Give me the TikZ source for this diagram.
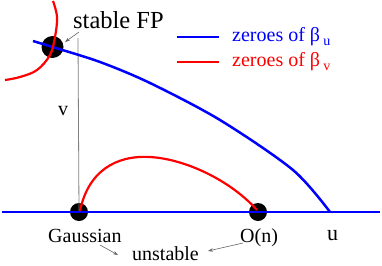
\documentclass[tikz,border=0pt]{standalone}
\usepackage{fontspec}
\setmainfont{Liberation Serif}
\newfontfamily\tms{Liberation Serif}
\usetikzlibrary{arrows.meta}
\begin{document}
\begin{tikzpicture}[x=1pt,y=-1pt,
  dot/.style={circle,fill=black,inner sep=0pt},
  lbl/.style={inner sep=0pt,anchor=base west,font=\tms\fontsize{20}{24}\selectfont},
  ptr/.style={draw=gray!80!black,line width=0.6pt,-{Stealth[length=5pt,width=3.5pt]}},
  bluec/.style={draw=blue,line width=2.5pt},
  redc/.style={draw=red,line width=2.2pt}]
\useasboundingbox (0,0) rectangle (382,265);
% dots
\node[dot,minimum size=22pt] (fp) at (52.5,47) {};
\node[dot,minimum size=18pt] (gauss) at (79,212) {};
\node[dot,minimum size=18pt] (on) at (258,212) {};
% gray vertical line
\coordinate (vtop) at (78,38);
\draw[gray,line width=0.8pt] (vtop) -- (gauss.center);
% axis
\coordinate (axl) at (2,212);
\coordinate (axr) at (380,212);
\draw[bluec] (axl) -- (axr);
% blue curve
\draw[bluec] plot[smooth,tension=0.5] coordinates {(33,41) (52.5,47) (100,62) (150,83) (220,120) (293,170) (330,212)};
% red curve near FP
\draw[redc] plot[smooth,tension=0.6] coordinates {(53,1) (57,17) (55,37) (50,55) (37,70) (20,77) (5,80)};
% red arc
\draw[redc] (80,211) .. controls (88,172) and (115,155) .. (150,157) .. controls (185,159) and (230,180) .. (257,210);
% legend
\coordinate (l1a) at (177,37); \coordinate (l1b) at (219,37);
\coordinate (l2a) at (177,62); \coordinate (l2b) at (219,62);
\draw[bluec] (l1a) -- (l1b);
\draw[redc] (l2a) -- (l2b);
\node[lbl,text=blue] (leg1) at (232,41) {zeroes of β\,\raisebox{-4pt}{\fontsize{14}{14}\selectfont u}};
\node[lbl,text=red] (leg2) at (232,66) {zeroes of β\,\raisebox{-4pt}{\fontsize{14}{14}\selectfont v}};
% labels
\node[lbl,font=\tms\fontsize{24.5}{28}\selectfont] (fpl) at (73,28) {stable FP};
\node[lbl] (vl) at (58,115) {v};
\node[lbl] (gl) at (48,242) {Gaussian};
\node[lbl] (onl) at (240,242) {O(n)};
\node[lbl,font=\tms\fontsize{22}{26}\selectfont] (ul) at (327,240) {u};
\node[lbl] (unl) at (132,260) {unstable};
% pointers
\coordinate (p1s) at (79,32); \coordinate (p1e) at (65,42);
\draw[ptr] (p1s) -- (p1e);
\coordinate (p2s) at (100,245); \coordinate (p2e) at (118,255);
\draw[ptr] (p2s) -- (p2e);
\coordinate (p3s) at (243,243); \coordinate (p3e) at (208,251);
\draw[ptr] (p3s) -- (p3e);
\end{tikzpicture}
\end{document}
